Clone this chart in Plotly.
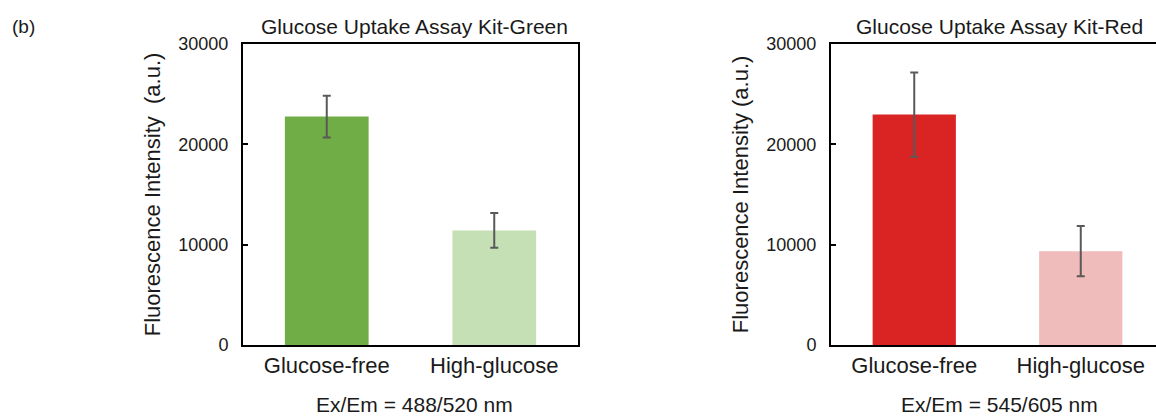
import plotly.graph_objects as go

# ---- data ----
categories = ["Glucose-free", "High-glucose"]
green_values = [22750, 11420]
green_errors = [2070, 1740]
red_values = [22950, 9350]
red_errors = [4190, 2500]
y_tick_values = [0, 10000, 20000, 30000]
y_tick_labels = ["0", "10000", "20000", "30000"]

green_colors = ["#70AD47", "#C5E0B4"]
red_colors = ["#DA2424", "#F0BBBB"]

W, H = 1156, 416
FONT = "Arial, Liberation Sans, sans-serif"
TXT = "#1a1a1a"

fig = go.Figure()
fig.add_trace(go.Bar(
    x=categories, y=green_values, width=0.5,
    marker=dict(color=green_colors, line=dict(width=0)),
    error_y=dict(type="data", array=green_errors, color="#595959", thickness=2, width=4),
    xaxis="x", yaxis="y", showlegend=False,
))
fig.add_trace(go.Bar(
    x=categories, y=red_values, width=0.5,
    marker=dict(color=red_colors, line=dict(width=0)),
    error_y=dict(type="data", array=red_errors, color="#595959", thickness=2, width=4),
    xaxis="x2", yaxis="y2", showlegend=False,
))

ydom = [1 - 352 / H, 1 - 35.5 / H]
left_dom = [243 / W, 578 / W]
right_dom = [831 / W, 1.0]
cat_px = 166.5
right_range = [-0.5, -0.5 + (W - 831) / cat_px]

xcommon = dict(
    type="category", showline=True, linecolor="black", linewidth=2,
    ticks="", showgrid=False, zeroline=False, mirror=True,
    tickfont=dict(family=FONT, size=22, color=TXT), ticklabelstandoff=0,
)
ycommon = dict(
    range=[0, 30000], tickvals=y_tick_values, ticktext=y_tick_labels,
    showline=True, linecolor="black", linewidth=2,
    ticks="inside", ticklen=5, tickwidth=2, tickcolor="black",
    showgrid=False, zeroline=False,
    tickfont=dict(family=FONT, size=18, color=TXT), ticklabelstandoff=9,
)

fig.update_layout(
    width=W, height=H,
    margin=dict(l=0, r=0, t=0, b=0),
    paper_bgcolor="white", plot_bgcolor="white",
    bargap=0.5,
    xaxis=dict(domain=left_dom, range=[-0.5, 1.5], anchor="y", **xcommon),
    yaxis=dict(domain=ydom, anchor="x", mirror=True,
               title=dict(text="Fluorescence Intensity\u00a0 (a.u.)",
                          font=dict(family=FONT, size=22, color=TXT), standoff=12),
               **ycommon),
    xaxis2=dict(domain=right_dom, range=right_range, anchor="y2", **xcommon),
    yaxis2=dict(domain=ydom, anchor="x2", mirror=False,
                title=dict(text="Fluorescence Intensity (a.u.)",
                           font=dict(family=FONT, size=22, color=TXT), standoff=12),
                **ycommon),
    annotations=[
        dict(text="(b)", x=10 / W, y=1 - 17 / H, xref="paper", yref="paper",
             xanchor="left", yanchor="middle", showarrow=False,
             font=dict(family=FONT, size=19, color=TXT)),
        dict(text="Glucose Uptake Assay Kit-Green", x=414 / W, y=1 - 17 / H,
             xref="paper", yref="paper", xanchor="center", yanchor="middle",
             showarrow=False, font=dict(family=FONT, size=21, color=TXT)),
        dict(text="Glucose Uptake Assay Kit-Red", x=999 / W, y=1 - 17 / H,
             xref="paper", yref="paper", xanchor="center", yanchor="middle",
             showarrow=False, font=dict(family=FONT, size=21, color=TXT)),
        dict(text="Ex/Em = 488/520 nm", x=414 / W, y=1 - 414 / H,
             xref="paper", yref="paper", xanchor="center", yanchor="middle",
             showarrow=False, font=dict(family=FONT, size=21, color=TXT)),
        dict(text="Ex/Em = 545/605 nm", x=999 / W, y=1 - 414 / H,
             xref="paper", yref="paper", xanchor="center", yanchor="middle",
             showarrow=False, font=dict(family=FONT, size=21, color=TXT)),
    ],
)

fig.write_html("out.html", config={"displayModeBar": False},
               post_script="document.body.style.margin='0';")
